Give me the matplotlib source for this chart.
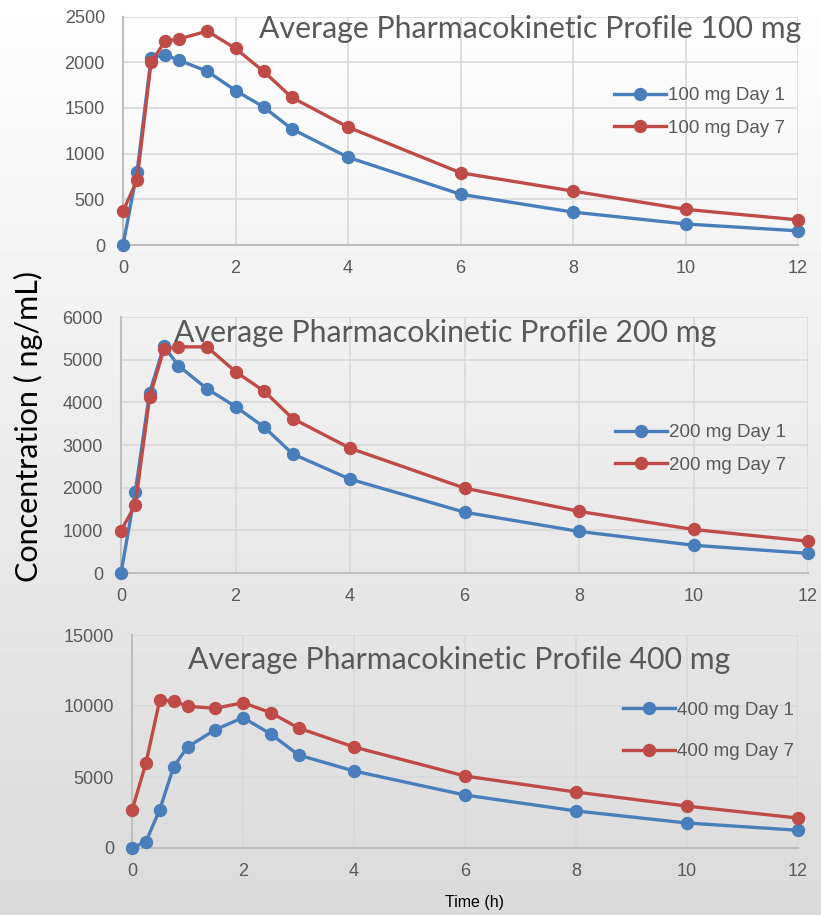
import matplotlib
matplotlib.use("Agg")
import matplotlib.pyplot as plt
import numpy as np

# sampling times (h), shared by every profile
time_h = [0, 0.25, 0.5, 0.75, 1, 1.5, 2, 2.5, 3, 4, 6, 8, 10, 12]

# mean plasma concentration (ng/mL)
c100_day1 = [0, 800, 2050, 2080, 2020, 1900, 1690, 1510, 1270, 960, 555, 360, 230, 155]
c100_day7 = [370, 710, 2000, 2230, 2255, 2340, 2150, 1900, 1615, 1290, 790, 590, 390, 275]

c200_day1 = [0, 1910, 4230, 5320, 4860, 4320, 3900, 3420, 2790, 2200, 1425, 975, 650, 460]
c200_day7 = [990, 1600, 4120, 5250, 5300, 5300, 4720, 4260, 3620, 2925, 1990, 1445, 1020, 745]

c400_day1 = [0, 440, 2700, 5720, 7110, 8330, 9180, 8030, 6550, 5420, 3730, 2610, 1760, 1250]
c400_day7 = [2650, 5960, 10420, 10350, 9980, 9840, 10230, 9530, 8450, 7110, 5070, 3940, 2950, 2110]

panels = [
    ("100 mg", c100_day1, c100_day7, 2500, 500),
    ("200 mg", c200_day1, c200_day7, 6000, 1000),
    ("400 mg", c400_day1, c400_day7, 15000, 5000),
]

W, H = 821, 915
fig = plt.figure(figsize=(W / 100, H / 100), dpi=100)

# soft vertical gradient behind the whole figure
bg = fig.add_axes([0, 0, 1, 1], zorder=-10)
grad = np.linspace(0.995, 0.855, 256).reshape(-1, 1)
bg.imshow(grad, aspect="auto", cmap="gray", vmin=0, vmax=1, extent=[0, 1, 0, 1])
bg.axis("off")

# axes boxes in pixels: left, right, top, bottom
boxes = [(123, 798, 16.5, 245), (121, 808, 317, 573), (132, 798, 635, 848)]
title_pos = [(530, 29), (445, 333), (459, 660)]
legend_pos = [(614, 112), (615, 449), (623, 731)]
legend_gap = [0.8, 0.8, 1.3]

blue = "#4a7ebb"
red = "#be4b48"
tick_col = "#595959"
grid_col = "#d9d9d9"

for i, (dose, day1, day7, ymax, ystep) in enumerate(panels):
    l, r, t, b = boxes[i]
    ax = fig.add_axes([l / W, 1 - b / H, (r - l) / W, (b - t) / H])
    ax.patch.set_alpha(0)
    ax.plot(time_h, day1, color=blue, lw=2.4, marker="o", ms=8.6,
            label=f"{dose} Day 1", clip_on=False, zorder=3)
    ax.plot(time_h, day7, color=red, lw=2.4, marker="o", ms=8.6,
            label=f"{dose} Day 7", clip_on=False, zorder=3)
    ax.set_xlim(0, 12)
    ax.set_ylim(0, ymax)
    ax.set_xticks(range(0, 13, 2))
    ax.set_yticks(np.arange(0, ymax + 1, ystep))
    ax.grid(True, color=grid_col, lw=1.2)
    ax.set_axisbelow(True)
    for s in ("top", "right"):
        ax.spines[s].set_visible(False)
    for s in ("left", "bottom"):
        ax.spines[s].set_color("#bfbfbf")
        ax.spines[s].set_linewidth(1.5)
    ax.tick_params(length=0, labelsize=13, labelcolor=tick_col,
                   labelfontfamily="Liberation Sans")
    ax.tick_params(axis="y", pad=13)
    ax.tick_params(axis="x", pad=11)

    tx, ty = title_pos[i]
    fig.text(tx / W, 1 - ty / H, f"Average Pharmacokinetic Profile {dose}",
             ha="center", va="center", fontsize=21.8, color=tick_col,
             family="Lato")

    lx, ly = legend_pos[i]
    fig.legend(handles=ax.get_lines(), loc="center left",
               bbox_to_anchor=(lx / W, 1 - ly / H), frameon=False,
               borderpad=0, borderaxespad=0, handlelength=2.75,
               handletextpad=0.15, labelspacing=legend_gap[i],
               prop={"family": "Liberation Sans", "size": 13.5},
               labelcolor=tick_col)

fig.text(28 / W, 1 - 427 / H, "Concentration ( ng/mL)", rotation=90,
         ha="center", va="center", fontsize=22, family="Lato", color="black")
fig.text(474 / W, 1 - 903 / H, "Time (h)", ha="center", va="center",
         fontsize=11.5, family="Liberation Sans", color="black")

fig.savefig("out.png", dpi=100)
